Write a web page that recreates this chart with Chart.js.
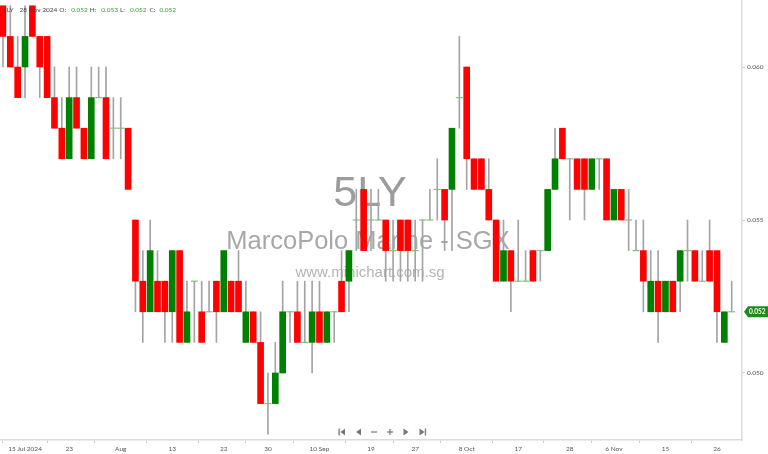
<!DOCTYPE html>
<html>
<head>
<meta charset="utf-8">
<style>
  html, body { margin: 0; padding: 0; background: #fff; }
  #wrap { width: 768px; height: 454px; }
</style>
<script src="https://cdn.jsdelivr.net/npm/chart.js@4/dist/chart.umd.min.js"></script>
</head>
<body>
<div id="wrap"><canvas id="c" width="768" height="454"></canvas></div>
<script>
// trading days, 10 Jul .. 28 Nov 2024
var dates = [
  '10 Jul','11 Jul','12 Jul','15 Jul','16 Jul','17 Jul','18 Jul','19 Jul','22 Jul','23 Jul',
  '24 Jul','25 Jul','26 Jul','29 Jul','30 Jul','31 Jul','1 Aug','2 Aug','5 Aug','6 Aug',
  '7 Aug','8 Aug','12 Aug','13 Aug','14 Aug','15 Aug','16 Aug','19 Aug','20 Aug','21 Aug',
  '22 Aug','23 Aug','26 Aug','27 Aug','28 Aug','29 Aug','30 Aug','2 Sep','3 Sep','4 Sep',
  '5 Sep','6 Sep','9 Sep','10 Sep','11 Sep','12 Sep','13 Sep','16 Sep','17 Sep','18 Sep',
  '19 Sep','20 Sep','23 Sep','24 Sep','25 Sep','26 Sep','27 Sep','30 Sep','1 Oct','2 Oct',
  '3 Oct','4 Oct','7 Oct','8 Oct','9 Oct','10 Oct','11 Oct','14 Oct','15 Oct','16 Oct',
  '17 Oct','18 Oct','21 Oct','22 Oct','23 Oct','24 Oct','25 Oct','28 Oct','29 Oct','30 Oct',
  '1 Nov','4 Nov','5 Nov','6 Nov','7 Nov','8 Nov','11 Nov','12 Nov','13 Nov','14 Nov',
  '15 Nov','18 Nov','19 Nov','20 Nov','21 Nov','22 Nov','25 Nov','26 Nov','27 Nov','28 Nov'
];

var opens = [
  0.062,0.061,0.060,0.060,0.062,0.061,0.061,0.059,0.058,0.057,
  0.059,0.058,0.057,0.059,0.059,0.058,0.058,0.058,0.055,0.053,
  0.052,0.053,0.053,0.052,0.054,0.051,0.053,0.052,0.052,0.053,
  0.052,0.053,0.053,0.051,0.052,0.051,0.049,0.049,0.050,0.052,
  0.052,0.051,0.051,0.052,0.051,0.052,0.053,0.053,0.055,0.056,
  0.055,0.055,0.055,0.054,0.055,0.055,0.054,0.055,0.055,0.056,
  0.056,0.056,0.059,0.060,0.057,0.057,0.056,0.055,0.053,0.054,
  0.053,0.053,0.054,0.054,0.054,0.056,0.058,0.057,0.057,0.057,
  0.056,0.057,0.057,0.055,0.056,0.055,0.054,0.054,0.052,0.053,
  0.052,0.053,0.053,0.054,0.054,0.053,0.054,0.054,0.051,0.052
];
var highs = [
  0.062,0.062,0.061,0.062,0.062,0.061,0.061,0.060,0.059,0.060,
  0.060,0.058,0.060,0.060,0.060,0.059,0.059,0.058,0.055,0.054,
  0.055,0.054,0.053,0.054,0.054,0.053,0.053,0.053,0.053,0.053,
  0.054,0.053,0.054,0.053,0.052,0.052,0.050,0.051,0.053,0.052,
  0.053,0.053,0.053,0.053,0.052,0.052,0.054,0.054,0.056,0.056,
  0.056,0.056,0.055,0.055,0.055,0.055,0.055,0.055,0.056,0.057,
  0.056,0.058,0.061,0.060,0.057,0.057,0.057,0.055,0.055,0.054,
  0.055,0.054,0.054,0.054,0.056,0.058,0.058,0.057,0.057,0.057,
  0.057,0.057,0.057,0.056,0.056,0.056,0.055,0.055,0.054,0.054,
  0.053,0.053,0.054,0.055,0.054,0.054,0.055,0.054,0.052,0.053
];
var lows = [
  0.060,0.060,0.059,0.059,0.061,0.059,0.059,0.058,0.057,0.057,
  0.058,0.057,0.057,0.059,0.057,0.057,0.057,0.056,0.052,0.051,
  0.052,0.052,0.051,0.051,0.051,0.051,0.051,0.051,0.052,0.051,
  0.052,0.052,0.052,0.051,0.051,0.049,0.048,0.049,0.050,0.051,
  0.051,0.051,0.050,0.051,0.051,0.051,0.052,0.052,0.054,0.054,
  0.054,0.055,0.053,0.053,0.053,0.053,0.053,0.053,0.055,0.055,
  0.054,0.054,0.058,0.056,0.056,0.056,0.055,0.053,0.053,0.052,
  0.053,0.053,0.053,0.053,0.054,0.056,0.057,0.055,0.056,0.055,
  0.056,0.056,0.055,0.055,0.055,0.054,0.054,0.052,0.052,0.051,
  0.052,0.052,0.052,0.053,0.053,0.053,0.053,0.051,0.051,0.052
];
var closes = [
  0.061,0.060,0.059,0.061,0.061,0.060,0.059,0.058,0.057,0.059,
  0.058,0.057,0.059,0.059,0.057,0.058,0.058,0.056,0.053,0.052,
  0.054,0.052,0.052,0.054,0.051,0.052,0.053,0.051,0.052,0.052,
  0.054,0.052,0.052,0.052,0.051,0.049,0.049,0.050,0.052,0.052,
  0.051,0.051,0.052,0.051,0.052,0.052,0.052,0.054,0.055,0.054,
  0.055,0.055,0.054,0.054,0.054,0.054,0.054,0.055,0.055,0.056,
  0.055,0.058,0.059,0.057,0.056,0.056,0.055,0.053,0.054,0.053,
  0.053,0.053,0.053,0.054,0.056,0.057,0.057,0.057,0.056,0.056,
  0.057,0.057,0.055,0.056,0.055,0.055,0.054,0.053,0.053,0.052,
  0.053,0.052,0.054,0.054,0.053,0.053,0.053,0.052,0.052,0.052
];

var tickDates = ['15 Jul','23 Jul','1 Aug','13 Aug','22 Aug','30 Aug','10 Sep','19 Sep','27 Sep','8 Oct','17 Oct','28 Oct','6 Nov','15 Nov','26 Nov'];
var tickLabels = ['15 Jul 2024','23','Aug','13','22','30','10 Sep','19','27','8 Oct','17','28','6 Nov','15','26'];
var priceTicks = [0.050, 0.055, 0.060];

var symbol = '5LY';
var company = 'MarcoPolo Marine - SGX';
var site = 'www.minichart.com.sg';
var lastDate = '28 Nov 2024';

var UP = '#008000', DOWN = '#ff0000', WICK = '#a4a4a4', FLAT = '#80c080';

var wickData = [], bodyData = [], bodyColors = [], dojiData = [];
for (var i = 0; i < dates.length; i++) {
  wickData.push({ x: i, y: [lows[i], highs[i]] });
  if (opens[i] === closes[i]) {
    dojiData.push({ x: i, y: closes[i] });
  } else {
    bodyData.push({ x: i, y: [opens[i], closes[i]] });
    bodyColors.push(closes[i] > opens[i] ? UP : DOWN);
  }
}
var tickIdx = tickDates.map(function(d) { return dates.indexOf(d); });
var last = dates.length - 1;

var watermark = {
  id: 'watermark',
  beforeDatasetsDraw: function(chart) {
    var ctx = chart.ctx;
    ctx.save();
    ctx.textAlign = 'center';
    ctx.textBaseline = 'alphabetic';
    ctx.fillStyle = '#9c9c9c';
    ctx.font = '43px "Liberation Sans", Arial, sans-serif';
    ctx.fillText(symbol, 370, 206);
    ctx.fillStyle = '#a8a8a8';
    ctx.font = '25.5px "Liberation Sans", Arial, sans-serif';
    ctx.fillText(company, 368, 249);
    ctx.fillStyle = '#b4b4b4';
    ctx.font = '15px "Liberation Sans", Arial, sans-serif';
    ctx.fillText(site, 370, 277);
    ctx.restore();
  }
};

var overlay = {
  id: 'overlay',
  afterDraw: function(chart) {
    var ctx = chart.ctx;
    var yScale = chart.scales.y;
    ctx.save();

    // header line
    var parts = [
      [symbol, '#444'], [lastDate, '#444'],
      ['O:', '#444'], [opens[last].toFixed(3), '#3a9a3a'],
      ['H:', '#444'], [highs[last].toFixed(3), '#3a9a3a'],
      ['L:', '#444'], [lows[last].toFixed(3), '#3a9a3a'],
      ['C:', '#444'], [closes[last].toFixed(3), '#3a9a3a']
    ];
    var gaps = [6, 2, 5, 2, 5, 2, 5, 3, 4, 0];
    ctx.font = '6.5px Lato, "Open Sans", sans-serif';
    ctx.textBaseline = 'middle';
    ctx.textAlign = 'left';
    var x = 3;
    parts.forEach(function(p, k) {
      ctx.fillStyle = p[1];
      ctx.fillText(p[0], x, 10);
      x += ctx.measureText(p[0]).width + gaps[k];
    });

    // last price tag
    var py = yScale.getPixelForValue(closes[last]);
    ctx.fillStyle = '#1f8a1f';
    ctx.beginPath();
    ctx.moveTo(744, py);
    ctx.lineTo(748, py - 5.5);
    ctx.lineTo(768, py - 5.5);
    ctx.lineTo(768, py + 5.5);
    ctx.lineTo(748, py + 5.5);
    ctx.closePath();
    ctx.fill();
    ctx.fillStyle = '#fff';
    ctx.font = 'bold 6.5px Lato, sans-serif';
    ctx.fillText(closes[last].toFixed(3), 749, py + 0.5);

    // navigation buttons
    var ny = 432;
    ctx.fillStyle = '#777';
    ctx.fillRect(338.5, ny - 3.5, 1.3, 7);
    tri(ctx, 340.5, ny, 345, -1);
    tri(ctx, 356, ny, 361, -1);
    ctx.fillRect(371, ny - 0.6, 6, 1.2);
    ctx.fillRect(387, ny - 0.6, 6, 1.2);
    ctx.fillRect(389.4, ny - 3, 1.2, 6);
    tri(ctx, 403.5, ny, 408.5, 1);
    tri(ctx, 419.5, ny, 424.5, 1);
    ctx.fillRect(424.8, ny - 3.5, 1.3, 7);
    ctx.restore();
  }
};

function tri(ctx, x0, y, x1, dir) {
  ctx.beginPath();
  if (dir < 0) {
    ctx.moveTo(x0, y);
    ctx.lineTo(x1, y - 3.5);
    ctx.lineTo(x1, y + 3.5);
  } else {
    ctx.moveTo(x1, y);
    ctx.lineTo(x0, y - 3.5);
    ctx.lineTo(x0, y + 3.5);
  }
  ctx.closePath();
  ctx.fill();
}

var smallFont = { family: 'Lato, "Open Sans", sans-serif', size: 6.5 };

new Chart(document.getElementById('c'), {
  type: 'bar',
  data: {
    datasets: [
      {
        type: 'line',
        data: dojiData,
        showLine: false,
        pointStyle: 'line',
        pointRadius: 3.5,
        pointBorderColor: FLAT,
        pointBorderWidth: 1.2,
        order: 1
      },
      {
        data: bodyData,
        backgroundColor: bodyColors,
        borderWidth: 0,
        barThickness: 6,
        grouped: false,
        order: 2
      },
      {
        data: wickData,
        backgroundColor: WICK,
        borderWidth: 0,
        barThickness: 1,
        grouped: false,
        order: 3
      }
    ]
  },
  options: {
    responsive: false,
    animation: false,
    devicePixelRatio: 1,
    layout: { padding: 0, autoPadding: false },
    plugins: { legend: { display: false }, tooltip: { enabled: false } },
    scales: {
      x: {
        type: 'linear',
        min: -0.4,
        max: 100.4,
        offset: false,
        afterFit: function(s) {
          s.height = 14;
          s.paddingLeft = 0;
          s.paddingRight = 0;
        },
        afterBuildTicks: function(s) {
          s.ticks = tickIdx.map(function(v) { return { value: v }; });
        },
        grid: { drawOnChartArea: false, drawTicks: true, tickLength: 3, color: '#c8c8c8' },
        border: { display: true, color: '#dcdcdc', width: 1.5 },
        ticks: {
          autoSkip: false,
          maxRotation: 0,
          padding: 2,
          color: '#555',
          font: smallFont,
          callback: function(v, k) { return tickLabels[k]; }
        }
      },
      y: {
        position: 'right',
        min: 0.04781,
        max: 0.06219,
        afterFit: function(s) {
          s.width = 26;
          s.paddingTop = 0;
          s.paddingBottom = 0;
        },
        afterBuildTicks: function(s) {
          s.ticks = priceTicks.map(function(v) { return { value: v }; });
        },
        grid: { drawOnChartArea: false, drawTicks: true, tickLength: 3, color: '#c8c8c8' },
        border: { display: true, color: '#dcdcdc', width: 1.5 },
        ticks: {
          padding: 2,
          color: '#555',
          font: smallFont,
          callback: function(v) { return v.toFixed(3); }
        }
      }
    }
  },
  plugins: [watermark, overlay]
});
</script>
</body>
</html>
